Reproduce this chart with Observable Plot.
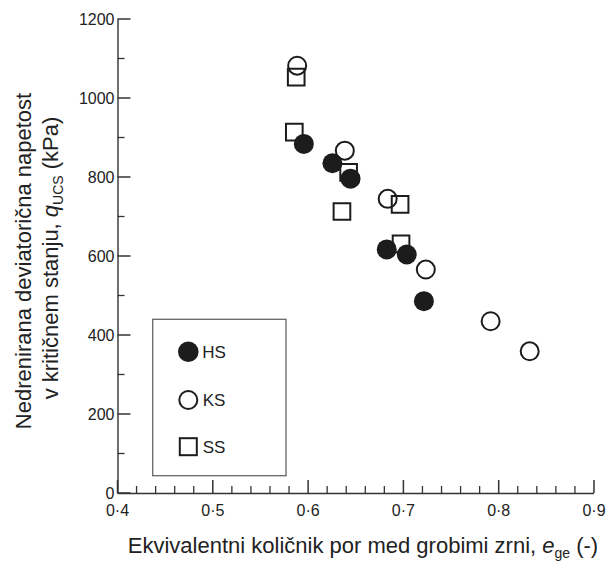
<!DOCTYPE html>
<html>
<head>
<meta charset="utf-8">
<script src="https://cdn.jsdelivr.net/npm/d3@7"></script>
<script src="https://cdn.jsdelivr.net/npm/@observablehq/plot@0.6"></script>
<style>
  html, body { margin: 0; padding: 0; background: #fff; }
  #chart { position: relative; width: 609px; height: 561px; }
</style>
</head>
<body>
<div id="chart"></div>
<script>
// Series (x = e_ge, y = q_UCS in kPa)
const hsX = [0.595, 0.625, 0.644, 0.682, 0.703, 0.721];
const hsY = [885, 836, 797, 618, 605, 487];
const ksX = [0.588, 0.638, 0.683, 0.723, 0.791, 0.832];
const ksY = [1083, 868, 746, 567, 436, 360];
const ssX = [0.587, 0.585, 0.642, 0.635, 0.696, 0.697];
const ssY = [1054, 915, 813, 714, 732, 632];

// Axis ticks and labels
const xMajor = [0.4, 0.5, 0.6, 0.7, 0.8, 0.9];
const xMinor = [0.42, 0.44, 0.46, 0.48, 0.52, 0.54, 0.56, 0.58, 0.62, 0.64, 0.66, 0.68,
                0.72, 0.74, 0.76, 0.78, 0.82, 0.84, 0.86, 0.88];
const yMajor = [0, 200, 400, 600, 800, 1000, 1200];
const yMinor = [100, 300, 500, 700, 900, 1100];
const legendNames = ["HS", "KS", "SS"];

const toPoints = (xs, ys) => xs.map((x, i) => ({x, y: ys[i]}));
const hs = toPoints(hsX, hsY), ks = toPoints(ksX, ksY), ss = toPoints(ssX, ssY);

const ink = "#1c1c1c";
const axisInk = "#333333";
const labelInk = "#222";
const fmt = d => d3.format(".1f")(d).replace(".", "\u00B7");
const font = "'Liberation Sans', Arial, sans-serif";

const chart = Plot.plot({
  width: 609,
  height: 561,
  marginLeft: 117.5,
  marginRight: 15,
  marginTop: 19,
  marginBottom: 68,
  style: {fontFamily: font, background: "#fff", color: labelInk},
  x: {domain: [0.4, 0.9], axis: null},
  y: {domain: [0, 1200], axis: null},
  marks: [
    Plot.ruleY([0], {stroke: axisInk, strokeWidth: 1.4}),
    Plot.ruleX([0.4], {stroke: axisInk, strokeWidth: 1.4}),
    Plot.dot(ss, {x: "x", y: "y", symbol: "square", r: 9.4, fill: "none", stroke: ink, strokeWidth: 2}),
    Plot.dot(ks, {x: "x", y: "y", symbol: "circle", r: 9, fill: "none", stroke: ink, strokeWidth: 2}),
    Plot.dot(hs, {x: "x", y: "y", symbol: "circle", r: 10, fill: ink, stroke: "none"})
  ]
});

document.getElementById("chart").appendChild(chart);

const svg = d3.select(chart);
const xs = chart.scale("x"), ys = chart.scale("y");
const sx = v => xs.apply(v);
const sy = v => ys.apply(v);
const x0 = sx(0.4), y0 = sy(0);

// inward ticks, placed with Plot's scales
const ticks = svg.append("g").attr("fill", "none");
const addLine = (x1, y1, x2, y2, w) => ticks.append("path")
  .attr("d", `M${x1},${y1}L${x2},${y2}`)
  .attr("stroke", axisInk).attr("stroke-width", w);
xMajor.forEach(v => addLine(sx(v), y0, sx(v), y0 - 13, 1.5));
xMinor.forEach(v => addLine(sx(v), y0, sx(v), y0 - 7, 1.3));
yMajor.forEach(v => addLine(x0, sy(v), x0 + 13, sy(v), 1.5));
yMinor.forEach(v => addLine(x0, sy(v), x0 + 7, sy(v), 1.3));

// tick labels
const labels = svg.append("g").attr("font-family", font).attr("font-size", 16).attr("fill", labelInk);
xMajor.forEach(v => labels.append("text").attr("x", sx(v)).attr("y", y0 + 23).attr("text-anchor", "middle").text(fmt(v)));
yMajor.forEach(v => labels.append("text").attr("x", x0 - 3).attr("y", sy(v)).attr("dy", "0.35em").attr("text-anchor", "end").text(String(v)));

// X axis title
const xt = svg.append("text")
  .attr("x", 363).attr("y", 553)
  .attr("text-anchor", "middle")
  .attr("font-family", font).attr("font-size", 22).attr("fill", labelInk);
xt.append("tspan").text("Ekvivalentni količnik por med grobimi zrni, ");
xt.append("tspan").attr("font-style", "italic").text("e");
xt.append("tspan").attr("font-size", 14).attr("dy", 5).text("ge");
xt.append("tspan").attr("dy", -5).text(" (-)");

// Y axis title (two lines)
svg.append("text")
  .attr("transform", "translate(31,261) rotate(-90)")
  .attr("text-anchor", "middle")
  .attr("font-family", font).attr("font-size", 22).attr("fill", labelInk)
  .text("Nedrenirana deviatorična napetost");
const yt2 = svg.append("text")
  .attr("transform", "translate(58,258) rotate(-90)")
  .attr("text-anchor", "middle")
  .attr("font-family", font).attr("font-size", 22).attr("fill", labelInk);
yt2.append("tspan").text("v kritičnem stanju, ");
yt2.append("tspan").attr("font-style", "italic").text("q");
yt2.append("tspan").attr("font-size", 14).attr("dy", 5).text("UCS");
yt2.append("tspan").attr("dy", -5).text(" (kPa)");

// Legend box
const lg = svg.append("g");
lg.append("rect")
  .attr("x", 152.7).attr("y", 319.3).attr("width", 133.3).attr("height", 156.4)
  .attr("fill", "#fff").attr("stroke", "#666").attr("stroke-width", 1.3);
const rowY = [351.7, 400, 446.7];
legendNames.forEach((name, i) => {
  const cy = rowY[i];
  if (name === "HS") {
    lg.append("circle").attr("cx", 188.3).attr("cy", cy).attr("r", 10.3).attr("fill", ink);
  } else if (name === "KS") {
    lg.append("circle").attr("cx", 188.3).attr("cy", cy).attr("r", 9).attr("fill", "none").attr("stroke", ink).attr("stroke-width", 2);
  } else {
    lg.append("rect").attr("x", 188.3 - 8.5).attr("y", cy - 8.5).attr("width", 17).attr("height", 17)
      .attr("fill", "none").attr("stroke", ink).attr("stroke-width", 2);
  }
  lg.append("text").attr("x", 214).attr("y", cy).attr("dy", "0.36em")
    .attr("font-family", font).attr("font-size", 17).attr("fill", labelInk).text(name);
});
</script>
</body>
</html>
